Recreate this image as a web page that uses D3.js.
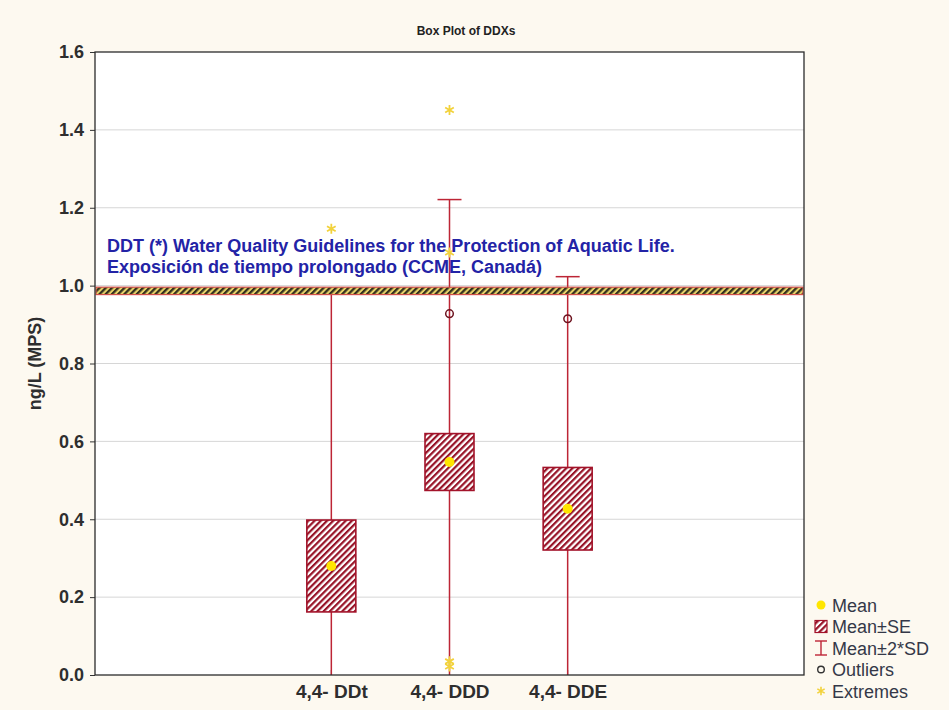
<!DOCTYPE html>
<html>
<head>
<meta charset="utf-8">
<script src="https://cdn.jsdelivr.net/npm/d3@7/dist/d3.min.js"></script>
<style>
  html, body { margin: 0; padding: 0; background: #fdf9f0; }
  svg { display: block; font-family: Arial, "Liberation Sans", sans-serif; }
</style>
</head>
<body>
<svg id="chart" width="949" height="710"></svg>
<script>
// Box plot data: mean, standard error and standard deviation per compound
const categories = ["4,4- DDt", "4,4- DDD", "4,4- DDE"];
const means = [0.280, 0.547, 0.427];
const stdErrors = [0.118, 0.073, 0.106];
const stdDevs = [0.349, 0.337, 0.298];
const outlierCats = [1, 2];
const outlierValues = [0.928, 0.915];
const extremeCats = [0, 1, 1, 1, 1];
const extremeValues = [1.146, 1.451, 1.085, 0.035, 0.022];
const guideBand = [0.977, 0.996];
const yTicks = [0, 0.2, 0.4, 0.6, 0.8, 1.0, 1.2, 1.4, 1.6];
const legendLabels = ["Mean", "Mean\u00b1SE", "Mean\u00b12*SD", "Outliers", "Extremes"];
const titleText = "Box Plot of DDXs";
const yTitle = "ng/L (MPS)";
const noteLines = [
  "DDT (*) Water Quality Guidelines for the Protection of Aquatic Life.",
  "Exposici\u00f3n de tiempo prolongado (CCME, Canad\u00e1)"
];

const svg = d3.select("#chart");
const plot = { left: 95, right: 804, top: 52, bottom: 675 };

const x = d3.scaleLinear().domain([-2, 4]).range([plot.left, plot.right]);
const y = d3.scaleLinear().domain([0, 1.6]).range([plot.bottom, plot.top]);

const boxRed = "#a3132a";
const whiskerRed = "#bd2535";
const meanYellow = "#ffe600";
const starYellow = "#f2d23c";

const defs = svg.append("defs");
// Diagonal hatch for the Mean±SE boxes
const hatch = defs.append("pattern")
  .attr("id", "hatchRed").attr("patternUnits", "userSpaceOnUse")
  .attr("width", 4.4).attr("height", 4.4)
  .attr("patternTransform", "rotate(45)");
hatch.append("rect").attr("width", 4.4).attr("height", 4.4).attr("fill", "#fff");
hatch.append("line").attr("x1", 1.1).attr("y1", 0).attr("x2", 1.1).attr("y2", 4.4)
  .attr("stroke", "#971327").attr("stroke-width", 2.2);

// Striped pattern for the guideline band
const band = defs.append("pattern")
  .attr("id", "hatchBand").attr("patternUnits", "userSpaceOnUse")
  .attr("width", 4.4).attr("height", 4.4)
  .attr("patternTransform", "rotate(45)");
band.append("rect").attr("width", 4.4).attr("height", 4.4).attr("fill", "#e9d46a");
band.append("line").attr("x1", 1.1).attr("y1", 0).attr("x2", 1.1).attr("y2", 4.4)
  .attr("stroke", "#34301e").attr("stroke-width", 2.4);

defs.append("clipPath").attr("id", "plotClip")
  .append("rect")
  .attr("x", plot.left).attr("y", plot.top)
  .attr("width", plot.right - plot.left).attr("height", plot.bottom - plot.top);

// Plot area
svg.append("rect")
  .attr("x", plot.left).attr("y", plot.top)
  .attr("width", plot.right - plot.left).attr("height", plot.bottom - plot.top)
  .attr("fill", "#ffffff");

// Horizontal gridlines
svg.append("g").selectAll("line")
  .data(yTicks.filter(v => v > 0 && v < 1.6))
  .join("line")
  .attr("x1", plot.left).attr("x2", plot.right)
  .attr("y1", d => y(d)).attr("y2", d => y(d))
  .attr("stroke", "#d6d6d6").attr("stroke-width", 1);

// Title
svg.append("text")
  .attr("x", 466).attr("y", 35)
  .attr("text-anchor", "middle")
  .attr("font-size", 12).attr("font-weight", "bold").attr("fill", "#222")
  .text(titleText);

// Y axis
const yAxis = svg.append("g")
  .attr("transform", `translate(${plot.left},0)`)
  .call(d3.axisLeft(y).tickValues(yTicks).tickFormat(d3.format(".1f")).tickSize(5).tickSizeOuter(0));
yAxis.select(".domain").remove();
yAxis.selectAll("line").attr("stroke", "#333");
yAxis.selectAll("text")
  .attr("font-size", 18).attr("font-weight", "bold").attr("fill", "#2e2e2e")
  .attr("font-family", "Arial, 'Liberation Sans', sans-serif")
  .attr("dx", "-3");

svg.append("text")
  .attr("transform", `translate(41,${(plot.top + plot.bottom) / 2}) rotate(-90)`)
  .attr("text-anchor", "middle")
  .attr("font-size", 18).attr("font-weight", "bold").attr("fill", "#2e2e2e")
  .text(yTitle);

// X axis labels
const xAxis = svg.append("g")
  .attr("transform", `translate(0,${plot.bottom})`)
  .call(d3.axisBottom(x).tickValues([0, 1, 2]).tickFormat(i => categories[i]).tickSize(0));
xAxis.select(".domain").remove();
xAxis.selectAll("text")
  .attr("font-size", 19).attr("font-weight", "bold").attr("fill", "#2e2e2e")
  .attr("font-family", "Arial, 'Liberation Sans', sans-serif")
  .attr("dy", "1.05em");
svg.append("g").selectAll("line")
  .data([0, 1, 2]).join("line")
  .attr("x1", d => x(d)).attr("x2", d => x(d))
  .attr("y1", plot.bottom).attr("y2", plot.bottom - 5)
  .attr("stroke", "#333");

const g = svg.append("g").attr("clip-path", "url(#plotClip)");

// Mean ± 2*SD whiskers
categories.forEach((c, i) => {
  const hi = means[i] + 2 * stdDevs[i];
  const lo = means[i] - 2 * stdDevs[i];
  g.append("line")
    .attr("x1", x(i)).attr("x2", x(i))
    .attr("y1", y(hi)).attr("y2", y(lo))
    .attr("stroke", whiskerRed).attr("stroke-width", 1.5);
  [hi, lo].forEach(v => {
    g.append("line")
      .attr("x1", x(i) - 12).attr("x2", x(i) + 12)
      .attr("y1", y(v)).attr("y2", y(v))
      .attr("stroke", whiskerRed).attr("stroke-width", 1.5);
  });
});

// Guideline band
g.append("rect")
  .attr("x", plot.left + 1).attr("width", plot.right - plot.left - 2)
  .attr("y", y(guideBand[1])).attr("height", y(guideBand[0]) - y(guideBand[1]))
  .attr("fill", "url(#hatchBand)")
  .attr("stroke", "#d2504a").attr("stroke-width", 1.2);

// Mean ± SE boxes
const boxHalf = 24.5;
g.append("g").selectAll("rect")
  .data(categories.map((c, i) => i))
  .join("rect")
  .attr("x", i => x(i) - boxHalf).attr("width", boxHalf * 2)
  .attr("y", i => y(means[i] + stdErrors[i]))
  .attr("height", i => y(means[i] - stdErrors[i]) - y(means[i] + stdErrors[i]))
  .attr("fill", "url(#hatchRed)")
  .attr("stroke", boxRed).attr("stroke-width", 1.6);

// Means
g.append("g").selectAll("circle")
  .data(categories.map((c, i) => i))
  .join("circle")
  .attr("cx", i => x(i)).attr("cy", i => y(means[i]))
  .attr("r", 5).attr("fill", meanYellow);

// Outliers
g.append("g").selectAll("circle")
  .data(outlierValues.map((v, k) => k))
  .join("circle")
  .attr("cx", k => x(outlierCats[k])).attr("cy", k => y(outlierValues[k]))
  .attr("r", 3.8).attr("fill", "none")
  .attr("stroke", "#6e1420").attr("stroke-width", 1.5);

// Extremes
const star = d3.symbol().type(d3.symbolAsterisk).size(70);
g.append("g").selectAll("path")
  .data(extremeValues.map((v, k) => k))
  .join("path")
  .attr("transform", k => `translate(${x(extremeCats[k])},${y(extremeValues[k])})`)
  .attr("d", star)
  .attr("fill", "none").attr("stroke", starYellow).attr("stroke-width", 1.8);

// Guideline annotation
const note = svg.append("text")
  .attr("font-size", 18).attr("font-weight", "bold").attr("fill", "#2323a6");
noteLines.forEach((t, k) => {
  note.append("tspan").attr("x", 107).attr("y", 252 + k * 21).text(t);
});

// Plot frame
svg.append("rect")
  .attr("x", plot.left).attr("y", plot.top)
  .attr("width", plot.right - plot.left).attr("height", plot.bottom - plot.top)
  .attr("fill", "none").attr("stroke", "#2b2b2b").attr("stroke-width", 1.3);

// Legend
const lg = svg.append("g");
const lx = 821, ly0 = 605, lstep = 21.5;
legendLabels.forEach((t, k) => {
  lg.append("text")
    .attr("x", lx + 11).attr("y", ly0 + k * lstep + 6.5)
    .attr("font-size", 18).attr("fill", "#343848").text(t);
});
lg.append("circle").attr("cx", lx).attr("cy", ly0).attr("r", 4.5).attr("fill", meanYellow);
lg.append("rect").attr("x", lx - 6).attr("y", ly0 + lstep - 6).attr("width", 12).attr("height", 12)
  .attr("fill", "url(#hatchRed)").attr("stroke", boxRed).attr("stroke-width", 1.2);
const wy = ly0 + 2 * lstep;
lg.append("line").attr("x1", lx).attr("x2", lx).attr("y1", wy - 7).attr("y2", wy + 7)
  .attr("stroke", whiskerRed).attr("stroke-width", 1.4);
[wy - 7, wy + 7].forEach(v => lg.append("line").attr("x1", lx - 6).attr("x2", lx + 6)
  .attr("y1", v).attr("y2", v).attr("stroke", whiskerRed).attr("stroke-width", 1.4));
lg.append("circle").attr("cx", lx).attr("cy", ly0 + 3 * lstep).attr("r", 3.3)
  .attr("fill", "none").attr("stroke", "#333").attr("stroke-width", 1.4);
lg.append("path").attr("transform", `translate(${lx},${ly0 + 4 * lstep})`)
  .attr("d", d3.symbol().type(d3.symbolAsterisk).size(50))
  .attr("fill", "none").attr("stroke", starYellow).attr("stroke-width", 1.6);
</script>
</body>
</html>
